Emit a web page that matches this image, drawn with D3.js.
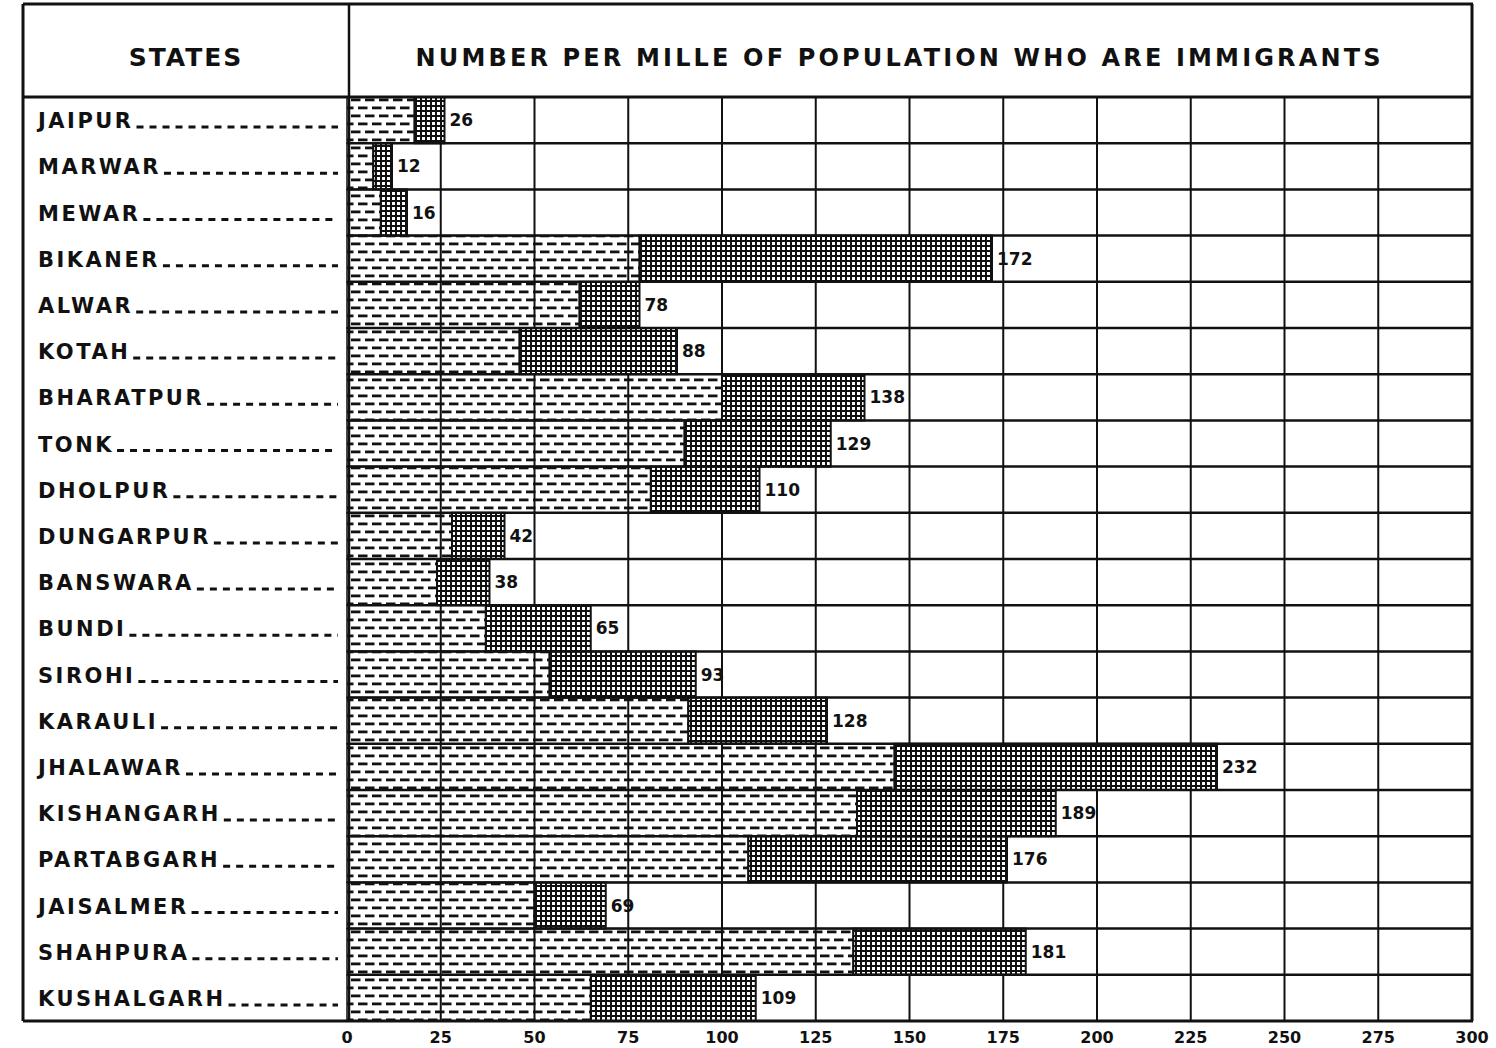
<!DOCTYPE html>
<html>
<head>
<meta charset="utf-8">
<script src="https://cdn.jsdelivr.net/npm/d3@7"></script>
<style>
  html, body { margin: 0; padding: 0; background: #fff; }
  svg { display: block; }
  text { font-family: "DejaVu Sans", sans-serif; font-weight: bold; fill: #111; }
</style>
</head>
<body>
<div id="chart"></div>
<script>
// Number per mille of population who are immigrants, by state.
// firstPart = the horizontally-dashed segment, totals = full bar (labelled).
const states = [
  'JAIPUR', 'MARWAR', 'MEWAR', 'BIKANER', 'ALWAR', 'KOTAH', 'BHARATPUR',
  'TONK', 'DHOLPUR', 'DUNGARPUR', 'BANSWARA', 'BUNDI', 'SIROHI', 'KARAULI',
  'JHALAWAR', 'KISHANGARH', 'PARTABGARH', 'JAISALMER', 'SHAHPURA', 'KUSHALGARH'
];
const totals    = [26, 12, 16, 172, 78, 88, 138, 129, 110, 42, 38, 65, 93, 128, 232, 189, 176, 69, 181, 109];
const firstPart = [18, 7, 9, 78, 62, 46, 100, 90, 81, 28, 24, 37, 54, 91, 146, 136, 107, 50, 135, 65];
const xTicks = [0, 25, 50, 75, 100, 125, 150, 175, 200, 225, 250, 275, 300];

const width = 1496;
const height = 1048;

const frameLeft = 23;
const frameTop = 4;
const headerBottom = 97;
const chartBottom = 1021;

const x = d3.scaleLinear().domain([0, 300]).range([347, 1472]);
const y = d3.scaleBand().domain(states).range([headerBottom, chartBottom]).padding(0);

const rows = states.map((name, i) => ({ name, first: firstPart[i], total: totals[i] }));

const svg = d3.select('#chart').append('svg')
  .attr('width', width)
  .attr('height', height);

const defs = svg.append('defs');

// staggered horizontal dashes, transparent so the grid shows through
const dash = defs.append('pattern')
  .attr('id', 'dashes')
  .attr('patternUnits', 'userSpaceOnUse')
  .attr('width', 14).attr('height', 16);
[[1, 2.5], [8, 10.5], [-6, 10.5]].forEach(([dx, dy]) => {
  dash.append('rect')
    .attr('x', dx).attr('y', dy)
    .attr('width', 9.5).attr('height', 2.8)
    .attr('fill', '#111');
});

// fine square cross-hatch
const hatch = defs.append('pattern')
  .attr('id', 'hatch')
  .attr('patternUnits', 'userSpaceOnUse')
  .attr('width', 5).attr('height', 5);
hatch.append('rect').attr('width', 5).attr('height', 5).attr('fill', '#fff');
hatch.append('rect').attr('width', 2).attr('height', 5).attr('fill', '#111');
hatch.append('rect').attr('width', 5).attr('height', 2).attr('fill', '#111');

// vertical grid (under the bars)
svg.append('g').attr('class', 'grid-v').attr('stroke', '#111')
  .selectAll('line')
  .data(xTicks.filter(t => t > 0 && t < 300))
  .join('line')
  .attr('x1', d => x(d)).attr('x2', d => x(d))
  .attr('y1', headerBottom).attr('y2', chartBottom)
  .attr('stroke-width', 2);

// bars
const barG = svg.append('g').attr('class', 'bars');

barG.selectAll('rect.second')
  .data(rows)
  .join('rect')
  .attr('class', 'second')
  .attr('x', d => x(d.first))
  .attr('y', d => y(d.name))
  .attr('width', d => x(d.total) - x(d.first))
  .attr('height', y.bandwidth())
  .attr('fill', 'url(#hatch)')
  .attr('stroke', '#111')
  .attr('stroke-width', 2);

barG.selectAll('rect.first')
  .data(rows)
  .join('rect')
  .attr('class', 'first')
  .attr('x', x(0))
  .attr('y', d => y(d.name))
  .attr('width', d => x(d.first) - x(0))
  .attr('height', y.bandwidth())
  .attr('fill', 'url(#dashes)')
  .attr('stroke', '#111')
  .attr('stroke-width', 1.5);

// row separators
svg.append('g').attr('class', 'grid-h').attr('stroke', '#111')
  .selectAll('line')
  .data(states.slice(1))
  .join('line')
  .attr('x1', x(0)).attr('x2', x(300))
  .attr('y1', d => y(d)).attr('y2', d => y(d))
  .attr('stroke-width', 2.5);

// frame
const frame = svg.append('g').attr('class', 'frame').attr('stroke', '#111').attr('fill', 'none');
frame.append('line').attr('x1', frameLeft).attr('x2', x(300) + 1).attr('y1', frameTop).attr('y2', frameTop).attr('stroke-width', 3);
frame.append('line').attr('x1', frameLeft).attr('x2', x(300) + 1).attr('y1', headerBottom).attr('y2', headerBottom).attr('stroke-width', 3);
frame.append('line').attr('x1', frameLeft).attr('x2', x(300) + 1).attr('y1', chartBottom).attr('y2', chartBottom).attr('stroke-width', 3);
frame.append('line').attr('x1', frameLeft).attr('x2', frameLeft).attr('y1', frameTop).attr('y2', chartBottom).attr('stroke-width', 3);
frame.append('line').attr('x1', x(0) + 2).attr('x2', x(0) + 2).attr('y1', frameTop).attr('y2', chartBottom).attr('stroke-width', 2.5);
frame.append('line').attr('x1', x(300)).attr('x2', x(300)).attr('y1', frameTop).attr('y2', chartBottom).attr('stroke-width', 3);

// header
svg.append('text')
  .attr('x', 186)
  .attr('y', 66)
  .attr('text-anchor', 'middle')
  .attr('font-size', 25)
  .attr('letter-spacing', 2)
  .text('STATES');

svg.append('text')
  .attr('x', 898)
  .attr('y', 66)
  .attr('text-anchor', 'middle')
  .attr('font-size', 24)
  .attr('textLength', 965)
  .attr('lengthAdjust', 'spacing')
  .text('NUMBER PER MILLE OF POPULATION WHO ARE IMMIGRANTS');

// state labels with dotted leaders
const labelG = svg.append('g').attr('class', 'labels');
const labels = labelG.selectAll('text')
  .data(rows)
  .join('text')
  .attr('x', 38)
  .attr('y', d => y(d.name) + y.bandwidth() / 2 + 8)
  .attr('font-size', 21)
  .attr('letter-spacing', 2.5)
  .text(d => d.name);

labels.each(function (d) {
  const end = 38 + this.getComputedTextLength() + 3;
  labelG.append('line')
    .attr('x1', end).attr('x2', 338)
    .attr('y1', y(d.name) + y.bandwidth() / 2 + 7)
    .attr('y2', y(d.name) + y.bandwidth() / 2 + 7)
    .attr('stroke', '#111')
    .attr('stroke-width', 3)
    .attr('stroke-dasharray', '7,6');
});

// value labels
svg.append('g').selectAll('text')
  .data(rows)
  .join('text')
  .attr('x', d => x(d.total) + 5)
  .attr('y', d => y(d.name) + y.bandwidth() / 2 + 6)
  .attr('font-size', 17)
  .text(d => d.total);

// x tick labels
svg.append('g').selectAll('text')
  .data(xTicks)
  .join('text')
  .attr('x', d => x(d))
  .attr('y', 1043)
  .attr('text-anchor', 'middle')
  .attr('font-size', 16)
  .text(d => d);
</script>
</body>
</html>
